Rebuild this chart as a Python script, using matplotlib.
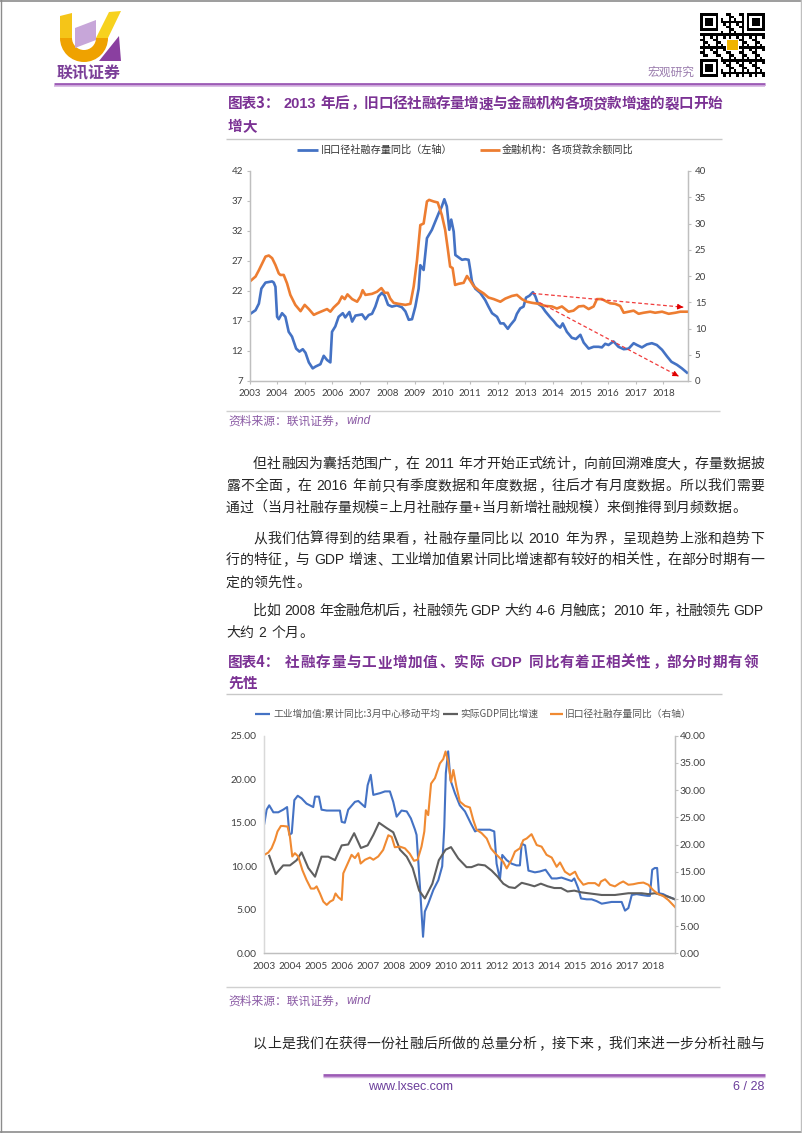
import numpy as np
import matplotlib
matplotlib.use('Agg')
import matplotlib.pyplot as plt
from matplotlib.patches import Polygon, Wedge
from matplotlib.ticker import FormatStrFormatter

CJK = ['Noto Sans CJK SC', 'DejaVu Sans']
LAT = 'Liberation Sans'
plt.rcParams['font.family'] = CJK

# ---------------- data: chart 3 ----------------
c1_blue_x = [2003.00, 2003.22, 2003.34, 2003.43, 2003.58, 2003.82, 2003.88, 2003.94, 2004.00, 2004.06,
             2004.18, 2004.30, 2004.42, 2004.54, 2004.69, 2004.81, 2004.93, 2005.03, 2005.15, 2005.29,
             2005.39, 2005.57, 2005.69, 2005.81, 2005.93, 2005.99, 2006.11, 2006.23, 2006.38, 2006.47,
             2006.62, 2006.72, 2006.84, 2007.08, 2007.20, 2007.32, 2007.44, 2007.56, 2007.68, 2007.80,
             2007.90, 2008.02, 2008.16, 2008.34, 2008.52, 2008.65, 2008.77, 2008.89, 2009.01, 2009.13,
             2009.19, 2009.31, 2009.43, 2009.61, 2009.85, 2009.97, 2010.06, 2010.15, 2010.24, 2010.31,
             2010.40, 2010.46, 2010.58, 2010.70, 2010.82, 2010.94, 2011.00, 2011.06, 2011.18, 2011.36,
             2011.54, 2011.66, 2011.79, 2011.97, 2012.09, 2012.21, 2012.36, 2012.45, 2012.61, 2012.69,
             2012.81, 2012.93, 2013.02, 2013.14, 2013.27, 2013.36, 2013.45, 2013.60, 2013.72, 2013.90,
             2014.02, 2014.14, 2014.26, 2014.35, 2014.50, 2014.68, 2014.83, 2014.99, 2015.11, 2015.29,
             2015.47, 2015.65, 2015.77, 2015.89, 2016.01, 2016.19, 2016.37, 2016.56, 2016.74, 2016.92,
             2017.04, 2017.22, 2017.40, 2017.58, 2017.76, 2017.95, 2018.13, 2018.29, 2018.49, 2018.67,
             2018.85]
c1_blue_y = [18.1, 18.8, 19.9, 22.4, 23.4, 23.6, 23.4, 22.7, 17.7, 17.3,
             18.3, 17.7, 15.2, 14.4, 12.4, 11.9, 12.3, 11.7, 10.1, 9.1,
             9.4, 9.8, 11.2, 10.5, 10.1, 15.2, 16.1, 17.7, 18.3, 17.6,
             18.5, 16.9, 17.9, 18.1, 17.3, 18.0, 18.2, 19.4, 21.1, 21.7,
             21.2, 19.7, 19.4, 19.6, 19.3, 18.6, 17.2, 17.3, 19.4, 22.4,
             26.3, 25.5, 30.8, 32.2, 34.9, 36.1, 37.3, 36.1, 32.2, 33.9,
             31.9, 28.0, 27.6, 27.2, 27.3, 27.2, 25.5, 23.6, 22.4, 21.7,
             20.5, 19.4, 18.3, 17.7, 16.6, 16.6, 15.7, 16.3, 17.2, 18.2,
             19.1, 19.4, 20.9, 21.2, 21.8, 21.1, 19.9, 19.4, 18.6, 17.6,
             17.0, 16.3, 15.9, 16.6, 15.2, 14.2, 14.0, 14.7, 13.4, 12.4,
             12.7, 12.7, 12.6, 13.2, 13.0, 13.6, 12.7, 12.3, 12.4, 13.3,
             13.0, 12.6, 13.1, 13.3, 13.0, 12.2, 11.1, 10.2, 9.7, 9.1,
             8.4]
c1_orange_x = [2003.00, 2003.22, 2003.34, 2003.46, 2003.58, 2003.70, 2003.82, 2003.94, 2004.06, 2004.12,
               2004.24, 2004.36, 2004.48, 2004.66, 2004.85, 2005.00, 2005.15, 2005.33, 2005.45, 2005.63,
               2005.81, 2005.93, 2006.05, 2006.23, 2006.35, 2006.45, 2006.55, 2006.72, 2006.90, 2007.02,
               2007.10, 2007.20, 2007.44, 2007.62, 2007.78, 2007.90, 2008.01, 2008.10, 2008.22, 2008.40,
               2008.65, 2008.83, 2008.95, 2009.07, 2009.19, 2009.31, 2009.43, 2009.51, 2009.67, 2009.82,
               2009.97, 2010.09, 2010.19, 2010.27, 2010.36, 2010.45, 2010.57, 2010.76, 2010.88, 2011.00,
               2011.12, 2011.30, 2011.48, 2011.66, 2011.85, 2012.09, 2012.27, 2012.51, 2012.69, 2012.87,
               2013.05, 2013.23, 2013.48, 2013.72, 2013.96, 2014.14, 2014.32, 2014.56, 2014.74, 2014.93,
               2015.11, 2015.29, 2015.47, 2015.59, 2015.77, 2015.95, 2016.07, 2016.25, 2016.43, 2016.56,
               2016.74, 2016.92, 2017.10, 2017.28, 2017.52, 2017.70, 2017.95, 2018.19, 2018.43, 2018.61,
               2018.87]
c1_orange_y = [18.9, 19.9, 21.1, 22.4, 23.7, 23.9, 23.4, 22.1, 20.5, 20.2,
               20.2, 18.6, 16.4, 14.5, 13.3, 14.5, 13.7, 12.6, 12.9, 13.3,
               13.7, 13.2, 14.0, 14.9, 16.1, 15.6, 16.5, 15.6, 15.1, 16.1,
               17.3, 16.4, 16.6, 17.0, 17.7, 16.8, 16.8, 15.7, 14.9, 14.7,
               14.5, 14.7, 18.0, 23.0, 29.7, 30.0, 34.2, 34.5, 34.2, 34.0,
               31.6, 28.8, 25.0, 21.8, 21.5, 18.3, 18.5, 18.7, 20.0, 19.1,
               18.1, 17.3, 16.7, 15.9, 15.6, 15.1, 15.7, 16.2, 16.4, 15.6,
               15.1, 14.9, 14.7, 14.3, 14.2, 13.8, 14.2, 13.2, 13.4, 14.2,
               14.3, 13.7, 14.2, 15.6, 15.6, 15.1, 14.8, 14.7, 14.3, 13.0,
               13.2, 13.4, 12.8, 13.0, 13.2, 13.0, 13.2, 12.8, 13.0, 13.2,
               13.2]
c1_years = list(range(2003, 2019))
c1_left_ticks = [7, 12, 17, 22, 27, 32, 37, 42]
c1_right_ticks = [0, 5, 10, 15, 20, 25, 30, 35, 40]
c1_arrows = [((2013.25, 21.6), (2018.72, 19.3)), ((2013.50, 20.1), (2018.55, 7.8))]

# ---------------- data: chart 4 ----------------
c2_ind_x = [2003.00, 2003.09, 2003.19, 2003.35, 2003.54, 2003.73, 2003.88, 2003.97, 2004.06, 2004.16,
            2004.29, 2004.44, 2004.63, 2004.89, 2004.96, 2005.11, 2005.21, 2005.41, 2005.92, 2005.99,
            2006.11, 2006.24, 2006.50, 2006.63, 2006.89, 2006.99, 2007.11, 2007.21, 2007.47, 2007.66,
            2007.85, 2007.98, 2008.11, 2008.30, 2008.50, 2008.66, 2008.82, 2008.88, 2009.01, 2009.13,
            2009.20, 2009.33, 2009.53, 2009.72, 2009.87, 2009.95, 2010.01, 2010.10, 2010.19, 2010.36,
            2010.55, 2010.75, 2010.98, 2011.14, 2011.26, 2011.52, 2011.71, 2011.88, 2011.97, 2012.10,
            2012.19, 2012.36, 2012.55, 2012.74, 2012.87, 2012.94, 2013.07, 2013.20, 2013.45, 2013.64,
            2013.86, 2014.10, 2014.29, 2014.48, 2014.67, 2014.87, 2014.97, 2015.12, 2015.23, 2015.45,
            2015.64, 2015.83, 2016.03, 2016.22, 2016.41, 2016.61, 2016.80, 2016.93, 2017.06, 2017.19,
            2017.38, 2017.57, 2017.80, 2017.89, 2017.98, 2018.08, 2018.17, 2018.24, 2018.40, 2018.60,
            2018.86]
c2_ind_y = [14.9, 16.5, 17.0, 16.2, 16.2, 16.5, 16.8, 13.6, 13.8, 17.6,
            18.1, 17.8, 17.2, 16.8, 18.0, 18.0, 16.5, 16.4, 16.4, 15.1,
            15.0, 16.5, 17.4, 17.5, 16.8, 19.3, 20.5, 18.2, 18.4, 18.6,
            18.6, 17.4, 15.7, 16.4, 16.3, 15.5, 14.2, 13.6, 7.7, 1.9,
            4.8, 5.7, 7.3, 8.4, 10.0, 14.5, 20.7, 23.2, 19.9, 18.4,
            17.0, 16.3, 14.9, 14.0, 14.2, 14.2, 14.2, 14.0, 10.3, 8.5,
            11.3, 10.7, 10.3, 10.1, 10.1, 12.6, 12.4, 9.5, 9.3, 9.4,
            9.6, 8.6, 8.6, 8.7, 8.5, 8.3, 8.6, 7.5, 6.3, 6.2,
            6.2, 6.0, 5.7, 5.8, 5.9, 5.9, 5.9, 4.9, 5.2, 6.7,
            6.8, 6.7, 6.6, 6.6, 9.6, 9.8, 9.8, 6.9, 6.8, 6.5,
            6.2]
c2_gdp_x = [2003.19, 2003.44, 2003.73, 2003.99, 2004.25, 2004.44, 2004.70, 2004.96, 2005.21, 2005.47,
            2005.73, 2005.99, 2006.24, 2006.47, 2006.73, 2006.99, 2007.21, 2007.43, 2007.72, 2007.98,
            2008.24, 2008.50, 2008.73, 2008.98, 2009.20, 2009.49, 2009.74, 2010.00, 2010.21, 2010.49,
            2010.81, 2011.00, 2011.26, 2011.52, 2011.78, 2012.01, 2012.23, 2012.45, 2012.68, 2012.94,
            2013.20, 2013.43, 2013.68, 2013.94, 2014.20, 2014.46, 2014.71, 2014.97, 2015.25, 2015.51,
            2015.77, 2016.03, 2016.28, 2016.54, 2016.80, 2017.06, 2017.31, 2017.57, 2017.83, 2018.08,
            2018.34, 2018.60, 2018.86]
c2_gdp_y = [11.2, 9.1, 10.1, 10.1, 10.7, 11.6, 9.8, 8.8, 11.1, 11.1,
            10.7, 12.4, 12.5, 13.8, 12.1, 12.4, 13.6, 15.0, 14.4, 13.9,
            11.9, 11.1, 9.8, 7.2, 6.3, 8.0, 10.7, 11.9, 12.2, 10.9,
            9.9, 9.9, 10.2, 10.1, 9.5, 8.8, 8.0, 7.6, 7.5, 8.1,
            7.9, 7.7, 8.0, 7.7, 7.5, 7.5, 7.1, 7.2, 7.0, 6.9,
            6.8, 6.7, 6.7, 6.7, 6.8, 6.9, 6.9, 6.9, 6.8, 6.9,
            6.7, 6.5, 6.2]
c2_tsf_x = [2003.00, 2003.15, 2003.28, 2003.41, 2003.51, 2003.64, 2003.73, 2003.90, 2003.99, 2004.08,
            2004.18, 2004.31, 2004.47, 2004.63, 2004.80, 2004.93, 2005.02, 2005.15, 2005.28, 2005.41,
            2005.54, 2005.66, 2005.75, 2005.86, 2005.99, 2006.05, 2006.22, 2006.37, 2006.50, 2006.63,
            2006.72, 2006.89, 2007.08, 2007.21, 2007.40, 2007.59, 2007.79, 2007.92, 2008.04, 2008.24,
            2008.43, 2008.62, 2008.78, 2008.92, 2009.07, 2009.18, 2009.24, 2009.33, 2009.44, 2009.59,
            2009.78, 2009.91, 2010.00, 2010.10, 2010.21, 2010.30, 2010.42, 2010.55, 2010.75, 2010.94,
            2011.07, 2011.20, 2011.39, 2011.59, 2011.75, 2011.91, 2012.10, 2012.23, 2012.36, 2012.55,
            2012.68, 2012.87, 2013.00, 2013.13, 2013.32, 2013.52, 2013.71, 2013.90, 2014.10, 2014.29,
            2014.42, 2014.61, 2014.80, 2015.00, 2015.12, 2015.32, 2015.51, 2015.77, 2015.92, 2016.00,
            2016.16, 2016.35, 2016.54, 2016.73, 2016.86, 2017.06, 2017.25, 2017.44, 2017.64, 2017.83,
            2018.02, 2018.21, 2018.41, 2018.60, 2018.86]
c2_tsf_y = [18.1, 18.5, 19.3, 20.8, 22.4, 23.4, 23.4, 23.3, 21.4, 17.8,
            18.4, 17.8, 15.3, 13.5, 11.9, 11.9, 12.3, 11.0, 9.5, 8.9,
            9.5, 9.8, 11.0, 10.3, 9.8, 14.7, 16.5, 18.1, 17.5, 18.4,
            16.5, 17.2, 17.6, 17.2, 17.8, 19.0, 21.7, 21.4, 19.5, 19.6,
            19.3, 18.3, 17.0, 17.2, 19.6, 22.4, 26.3, 25.4, 31.2, 32.2,
            34.9, 35.7, 37.1, 35.2, 31.5, 33.7, 30.6, 27.9, 27.1, 26.8,
            24.5, 22.7, 22.1, 21.1, 19.3, 18.4, 17.5, 16.8, 15.6, 17.2,
            18.7, 19.3, 20.8, 21.1, 21.9, 19.9, 19.6, 18.1, 17.6, 15.9,
            16.7, 15.0, 14.4, 15.0, 13.8, 12.6, 12.9, 12.9, 12.4, 13.2,
            13.6, 12.6, 12.3, 12.9, 13.2, 12.6, 12.7, 12.9, 13.0, 12.6,
            11.6, 10.9, 10.5, 9.8, 8.5]
c2_years = list(range(2003, 2019))
c2_left_ticks = [0, 5, 10, 15, 20, 25]
c2_right_ticks = [0, 5, 10, 15, 20, 25, 30, 35, 40]

# ---------------- page text ----------------
TITLE3_A = '图表3：'
TITLE3_B = '2013 年后，旧口径社融存量增速与金融机构各项贷款增速的裂口开始'
TITLE3_C = '增大'
LEG1 = ['旧口径社融存量同比（左轴）', '金融机构：各项贷款余额同比']
SOURCE_CN = '资料来源：联讯证券，'
SOURCE_EN = 'wind'
PARAS = [
    ('但社融因为囊括范围广，在 2011 年才开始正式统计，向前回溯难度大，存量数据披', True, True),
    ('露不全面，在 2016 年前只有季度数据和年度数据，往后才有月度数据。所以我们需要', False, True),
    ('通过（当月社融存量规模=上月社融存量+当月新增社融规模）来倒推得到月频数据。', False, False),
    ('从我们估算得到的结果看，社融存量同比以 2010 年为界，呈现趋势上涨和趋势下', True, True),
    ('行的特征，与 GDP 增速、工业增加值累计同比增速都有较好的相关性，在部分时期有一', False, True),
    ('定的领先性。', False, False),
    ('比如 2008 年金融危机后，社融领先 GDP 大约 4-6 月触底；2010 年，社融领先 GDP', True, True),
    ('大约 2 个月。', False, False),
]
PARA_Y = [462.7, 485.0, 506.5, 537.5, 559.0, 581.5, 609.5, 631.5]
TITLE4_A = '图表4：'
TITLE4_B = '社融存量与工业增加值、实际 GDP 同比有着正相关性，部分时期有领'
TITLE4_C = '先性'
LEG2 = ['工业增加值:累计同比:3月中心移动平均', '实际GDP同比增速', '旧口径社融存量同比（右轴）']
LAST_LINE = '以上是我们在获得一份社融后所做的总量分析，接下来，我们来进一步分析社融与'
FOOT_L = 'www.lxsec.com'
FOOT_R = '6 / 28'
BRAND = '联讯证券'
SECTION = '宏观研究'

PURPLE = '#7B3294'
BLUE1, ORANGE1 = '#4472C4', '#ED7D31'
BLUE2, GRAY2, ORANGE2 = '#4472C4', '#5F5F5F', '#F08A32'

W, H = 802, 1133
fig = plt.figure(figsize=(W / 100, H / 100), dpi=100)
fig.patch.set_facecolor('white')
bg = fig.add_axes([0, 0, 1, 1], zorder=0)
bg.set_xlim(0, W)
bg.set_ylim(H, 0)
bg.axis('off')
renderer = fig.canvas.get_renderer()

LEFTP = '，。：；、）'
RIGHTP = '（'


def tokens_line(s, x0, yc, size, x1=None, color='#262626', weight='normal'):
    px = size * 100 / 72.0
    base = yc + 0.37 * px
    toks, buf = [], ''
    for ch in s:
        if ch == ' ':
            if buf:
                toks.append(('a', buf)); buf = ''
            toks.append(('s', ch))
        elif ord(ch) < 0x2000:
            buf += ch
        else:
            if buf:
                toks.append(('a', buf)); buf = ''
            toks.append(('c', ch))
    if buf:
        toks.append(('a', buf))
    widths, objs = [], []
    for kind, t in toks:
        if kind == 's':
            widths.append(0.28 * px); objs.append(None)
        elif kind == 'c':
            widths.append(px); objs.append(None)
        else:
            o = bg.text(0, base, t, fontsize=size, color=color, weight=weight, family=LAT,
                        ha='left', va='baseline')
            w = o.get_window_extent(renderer).width
            widths.append(w + 0.12 * px); objs.append(o)
    gap = 0.0
    if x1 is not None and len(toks) > 1:
        gap = (x1 - x0 - sum(widths)) / (len(toks) - 1)
    x = x0
    for (kind, t), w, o in zip(toks, widths, objs):
        if kind == 'c':
            kw = dict(fontsize=size, color=color, weight=weight, family=CJK, va='baseline')
            if t in LEFTP:
                bg.text(x + 0.06 * px, base, t, ha='left', **kw)
            elif t in RIGHTP:
                bg.text(x + w - 0.06 * px, base, t, ha='right', **kw)
            else:
                bg.text(x + w / 2, base, t, ha='center', **kw)
        elif kind == 'a':
            o.set_x(x + 0.06 * px)
        x += w + gap


def hline(y, x0, x1, color, lw):
    bg.plot([x0, x1], [y, y], color=color, lw=lw, solid_capstyle='butt')


def source_line(y):
    t = bg.text(228, y, SOURCE_CN, fontsize=8.5, color='#8B5BA5', ha='left', va='center', family=CJK)
    ext = t.get_window_extent(renderer)
    bg.text(ext.x1 + 1, y + 0.5, SOURCE_EN, fontsize=8.5, color='#8B5BA5', ha='left', va='center',
            family=LAT, style='italic')


# ---------- page frame ----------
hline(0.6, 0, W, '#8C8C8C', 1.2)
hline(1131.5, 0, W, '#8C8C8C', 1.2)
bg.plot([0.6, 0.6], [0, H], color='#8C8C8C', lw=1.0)
bg.plot([801.4, 801.4], [0, H], color='#BFBFBF', lw=1.0)

# ---------- logo ----------
bg.add_patch(Wedge((84, 38), 24, 0, 180, width=12, facecolor='#EFA200', edgecolor='none'))
bg.add_patch(Polygon([(60, 16), (72, 13), (72, 38), (60, 38)], closed=True, facecolor='#F5C518', edgecolor='none'))
bg.add_patch(Polygon([(96, 38), (108, 38), (121, 11), (109, 12)], closed=True, facecolor='#F7D21E', edgecolor='none'))
bg.add_patch(Polygon([(75, 28), (96, 20), (96, 40), (75, 48)], closed=True, facecolor='#C7A6D9', edgecolor='none'))
bg.add_patch(Polygon([(99, 61), (121, 61), (119, 36)], closed=True, facecolor='#8A3FA0', edgecolor='none'))
bg.text(89, 73, BRAND, fontsize=11.5, weight='bold', color='#7B3F98', ha='center', va='center', family=CJK)

# ---------- QR ----------
n = 25
qr = np.zeros((n, n))
for i in range(n):
    for j in range(n):
        qr[i, j] = 1.0 if ((i * 7 + j * 11 + i * j * 3) % 5) < 2 else 0.0
for (r, c) in [(0, 0), (0, n - 7), (n - 7, 0)]:
    r0, c0 = max(r - 1, 0), max(c - 1, 0)
    qr[r0:r + 8, c0:c + 8] = 0
    qr[r:r + 7, c:c + 7] = 1
    qr[r + 1:r + 6, c + 1:c + 6] = 0
    qr[r + 2:r + 5, c + 2:c + 5] = 1
qr[10:15, 10:15] = 0
bg.imshow(1 - qr, cmap='gray', extent=(700, 765, 77, 13), interpolation='nearest', aspect='auto', zorder=1)
bg.add_patch(Polygon([(727, 40), (738, 40), (738, 50), (727, 50)], closed=True, facecolor='#F0B400', edgecolor='none', zorder=2))
bg.text(695, 72, SECTION, fontsize=8.5, color='#9B7DAE', ha='right', va='center', family=CJK)

# header rule
hline(83.6, 54, 765, '#9C5BB5', 2.0)
hline(86.2, 54, 765, '#D4B3E0', 1.2)

# ---------- title 3 ----------
bg.text(228, 103, TITLE3_A, fontsize=10.5, weight='bold', color=PURPLE, ha='left', va='center', family=CJK)
tokens_line(TITLE3_B, 283, 103, 10.5, x1=722, color=PURPLE, weight='bold')
tokens_line(TITLE3_C, 228, 125.5, 10.5, color=PURPLE, weight='bold')
hline(139, 226, 722, '#C8C8C8', 1.0)

# legend 1
hline(150, 297, 318, BLUE1, 2.0)
bg.text(321, 150, LEG1[0], fontsize=7.3, color='#333333', ha='left', va='center', family=CJK)
hline(150, 480, 500, ORANGE1, 2.0)
bg.text(502, 150, LEG1[1], fontsize=7.3, color='#333333', ha='left', va='center', family=CJK)


def fax(l, t, r, b):
    return fig.add_axes([l / W, 1 - b / H, (r - l) / W, (b - t) / H], zorder=2)


# ---------- chart 3 ----------
ax1 = fax(249.5, 171, 688, 381)
ax1.plot(c1_blue_x, c1_blue_y, color=BLUE1, lw=1.9, zorder=3, solid_joinstyle='round')
ax1.set_xlim(2003, 2018.89)
ax1.set_ylim(7, 42)
ax1.set_yticks(c1_left_ticks)
ax1.set_xticks(c1_years)
ax1.set_xticklabels([str(y) for y in c1_years])
ax1r = ax1.twinx()
ax1r.set_zorder(3)
ax1r.plot(c1_orange_x, c1_orange_y, color=ORANGE1, lw=1.9, solid_joinstyle='round')
for (xa, ya), (xb, yb) in c1_arrows:
    ax1r.plot([xa, xb], [ya, yb], transform=ax1.transData, color='#F03C3C', lw=0.9, ls=(0, (3, 2)))
    ax1r.annotate('', xy=(xb, yb), xytext=(xa + (xb - xa) * 0.96, ya + (yb - ya) * 0.96),
                  xycoords=ax1.transData, textcoords=ax1.transData,
                  arrowprops=dict(arrowstyle='-|>', color='#E00000', lw=0.8, mutation_scale=8,
                                  shrinkA=0, shrinkB=0))
ax1r.set_ylim(0, 40)
ax1r.set_yticks(c1_right_ticks)
ax1r.set_xlim(2003, 2018.89)
for a in (ax1, ax1r):
    a.set_facecolor('none')
    a.spines['top'].set_visible(False)
    for s in ('left', 'right', 'bottom'):
        a.spines[s].set_color('#BFBFBF')
        a.spines[s].set_linewidth(0.9)
ax1.tick_params(axis='y', length=2.5, width=0.8, color='#BFBFBF', labelsize=7, labelcolor='#404040',
                pad=2.2, labelfontfamily='Lato')
ax1.tick_params(axis='x', length=2.5, width=0.8, color='#BFBFBF', labelsize=7, labelcolor='#404040',
                pad=3.6, labelfontfamily='Lato')
ax1r.tick_params(axis='y', length=2.5, width=0.8, color='#BFBFBF', labelsize=7, labelcolor='#404040',
                 pad=2.5, labelfontfamily='Lato')

hline(411, 226, 720, '#D0D0D0', 1.0)
source_line(421)

# ---------- body paragraphs ----------
for (txt, indent, just), y in zip(PARAS, PARA_Y):
    x0 = 253 if indent else 226
    tokens_line(txt, x0, y, 10, x1=764 if just else None)

# ---------- title 4 ----------
bg.text(228, 661.7, TITLE4_A, fontsize=10.5, weight='bold', color=PURPLE, ha='left', va='center', family=CJK)
tokens_line(TITLE4_B, 285, 661.7, 10.5, x1=758, color=PURPLE, weight='bold')
tokens_line(TITLE4_C, 228, 682.7, 10.5, color=PURPLE, weight='bold')
hline(693.5, 226, 722, '#C8C8C8', 1.0)

# legend 2
hline(713.5, 255, 270, BLUE2, 1.6)
bg.text(273, 713.5, LEG2[0], fontsize=7, color='#595959', ha='left', va='center', family=CJK)
hline(713.5, 443, 458, GRAY2, 1.6)
bg.text(460, 713.5, LEG2[1], fontsize=7, color='#595959', ha='left', va='center', family=CJK)
hline(713.5, 550, 563, ORANGE2, 1.6)
bg.text(565, 713.5, LEG2[2], fontsize=7, color='#595959', ha='left', va='center', family=CJK)

# ---------- chart 4 ----------
ax2 = fax(264.3, 735.7, 675, 953.3)
ax2.plot(c2_ind_x, c2_ind_y, color=BLUE2, lw=1.5, solid_joinstyle='round')
ax2.plot(c2_gdp_x, c2_gdp_y, color=GRAY2, lw=1.5, solid_joinstyle='round')
ax2.set_xlim(2003, 2018.86)
ax2.set_ylim(0, 25)
ax2.set_yticks(c2_left_ticks)
ax2.yaxis.set_major_formatter(FormatStrFormatter('%.2f'))
ax2.set_xticks(c2_years)
ax2.set_xticklabels([str(y) for y in c2_years])
ax2r = ax2.twinx()
ax2r.plot(c2_tsf_x, c2_tsf_y, color=ORANGE2, lw=1.5, solid_joinstyle='round')
ax2r.set_ylim(0, 40)
ax2r.set_yticks(c2_right_ticks)
ax2r.yaxis.set_major_formatter(FormatStrFormatter('%.2f'))
ax2r.set_xlim(2003, 2018.86)
for a in (ax2, ax2r):
    a.set_facecolor('none')
    a.spines['top'].set_visible(False)
    a.spines['left'].set_color('#D9D9D9')
    a.spines['right'].set_color('#BFBFBF')
    a.spines['bottom'].set_color('#BFBFBF')
    for s in ('left', 'right', 'bottom'):
        a.spines[s].set_linewidth(0.9)
ax2.tick_params(axis='y', length=0, labelsize=7.4, labelcolor='#404040', pad=5.5, labelfontfamily='Lato')
ax2.tick_params(axis='x', length=0, labelsize=7.2, labelcolor='#404040', pad=6.5, labelfontfamily='Lato')
ax2r.tick_params(axis='y', length=2, width=0.8, color='#BFBFBF', labelsize=7.4, labelcolor='#404040',
                 pad=1.2, labelfontfamily='Lato')

hline(987.3, 226, 720, '#D0D0D0', 1.0)
source_line(1000.7)

tokens_line(LAST_LINE, 253, 1042.7, 10, x1=764)

# footer
hline(1074.5, 323, 765, '#9C5BB5', 2.0)
hline(1077.0, 323, 765, '#D4B3E0', 1.0)
bg.text(368, 1086.5, FOOT_L, fontsize=9, color='#6A3D9A', ha='left', va='center', family=LAT)
bg.text(764, 1086.5, FOOT_R, fontsize=9, color='#6A3D9A', ha='right', va='center', family=LAT)

bg.set_xlim(0, W)
bg.set_ylim(H, 0)
fig.savefig('out.png', dpi=100, facecolor='white')
